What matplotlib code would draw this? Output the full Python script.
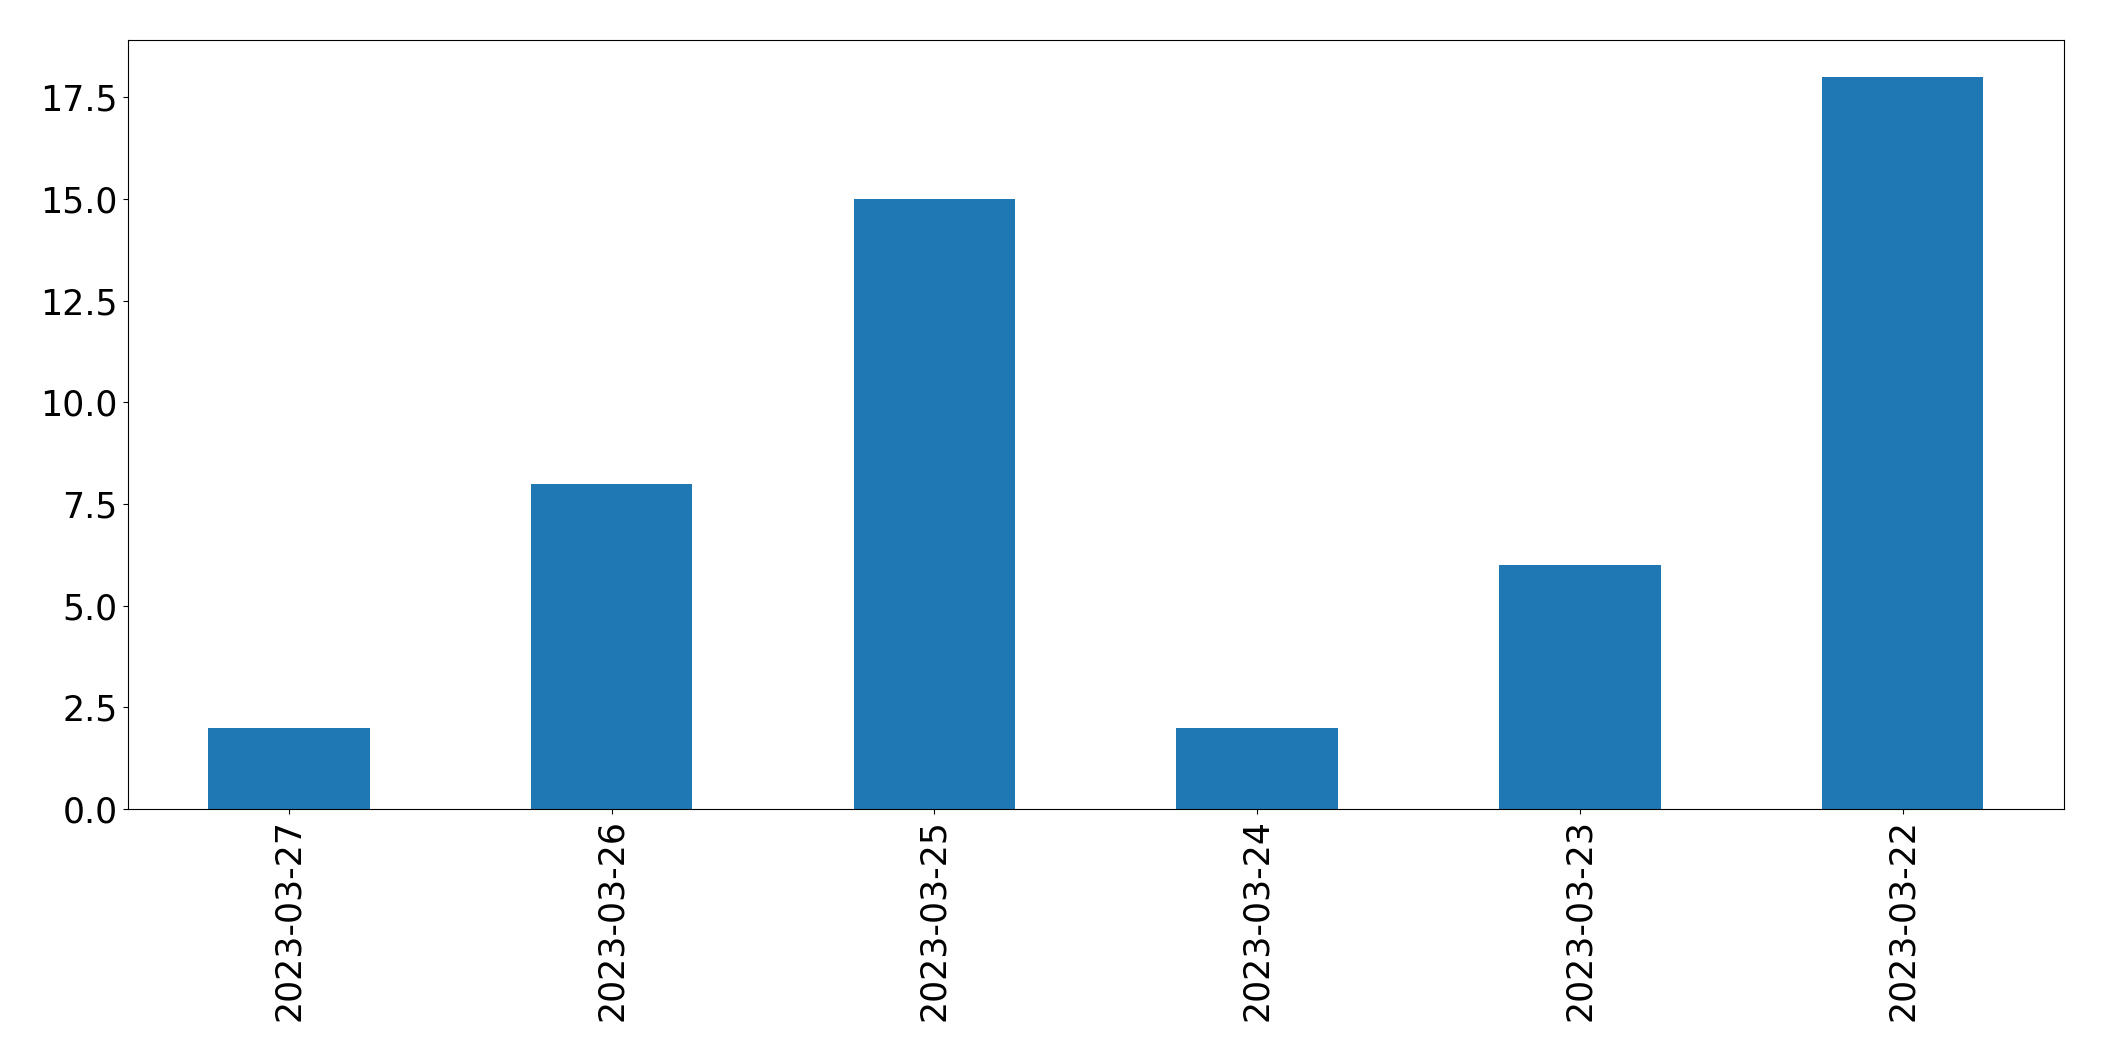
import pandas as pd
import matplotlib
matplotlib.use("Agg")
import matplotlib.pyplot as plt

dates = ["2023-03-27", "2023-03-26", "2023-03-25", "2023-03-24", "2023-03-23", "2023-03-22"]
counts = [2, 8, 15, 2, 6, 18]

s = pd.Series(counts, index=dates)

fig, ax = plt.subplots(figsize=(21.04, 10.61), dpi=100)
s.plot(kind="bar", ax=ax, fontsize=25)
ax.tick_params(labelsize=25)
fig.subplots_adjust(left=0.0606, right=0.981, top=0.962, bottom=0.2375)
fig.savefig("out.png", dpi=100)
